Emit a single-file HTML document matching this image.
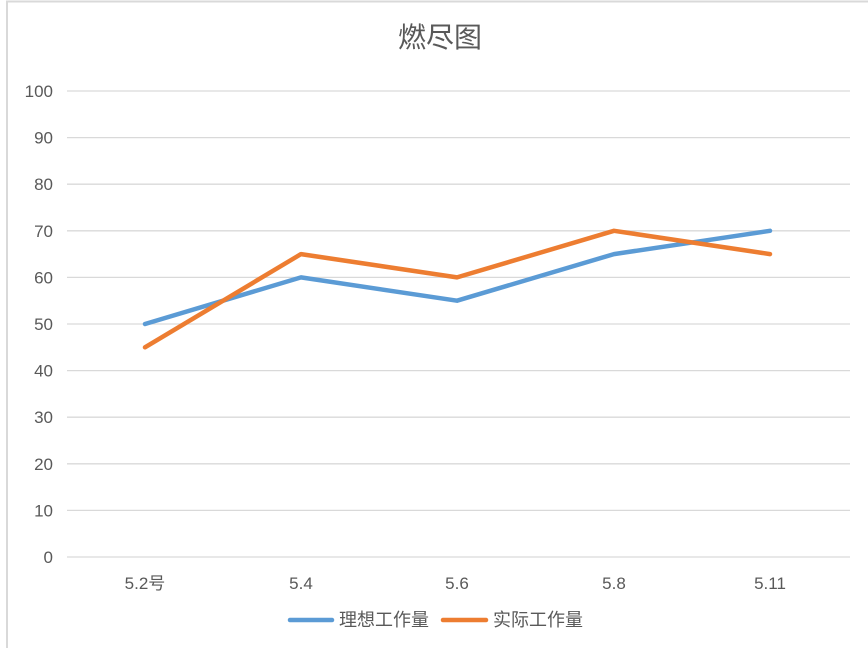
<!DOCTYPE html>
<html><head><meta charset="utf-8"><style>
body{margin:0;width:868px;height:648px;background:#fff;overflow:hidden}
text{font-family:"Liberation Sans","Noto Sans CJK SC",sans-serif;fill:#595959}
</style></head><body>
<svg width="868" height="648" xmlns="http://www.w3.org/2000/svg">
<rect x="7" y="1.5" width="870" height="660" fill="none" stroke="#d9d9d9" stroke-width="2"/>
<text x="440" y="47" font-size="28" text-anchor="middle">燃尽图</text>
<g stroke="#d9d9d9" stroke-width="1.3">
<line x1="67" x2="850" y1="91" y2="91"/><line x1="67" x2="850" y1="137.6" y2="137.6"/>
<line x1="67" x2="850" y1="184.2" y2="184.2"/><line x1="67" x2="850" y1="230.8" y2="230.8"/>
<line x1="67" x2="850" y1="277.4" y2="277.4"/><line x1="67" x2="850" y1="324" y2="324"/>
<line x1="67" x2="850" y1="370.6" y2="370.6"/><line x1="67" x2="850" y1="417.2" y2="417.2"/>
<line x1="67" x2="850" y1="463.8" y2="463.8"/><line x1="67" x2="850" y1="510.4" y2="510.4"/>
<line x1="67" x2="850" y1="557" y2="557"/>
</g>
<g font-size="17" text-anchor="end">
<text x="53" y="97">100</text><text x="53" y="143.6">90</text><text x="53" y="190.2">80</text>
<text x="53" y="236.8">70</text><text x="53" y="283.4">60</text><text x="53" y="330">50</text>
<text x="53" y="376.6">40</text><text x="53" y="423.2">30</text><text x="53" y="469.8">20</text>
<text x="53" y="516.4">10</text><text x="53" y="563">0</text>
</g>
<g font-size="17" text-anchor="middle">
<text x="145" y="589">5.2号</text><text x="301" y="589">5.4</text><text x="457" y="589">5.6</text>
<text x="614" y="589">5.8</text><text x="770" y="589">5.11</text>
</g>
<polyline fill="none" stroke="#5b9bd5" stroke-width="4.5" stroke-linejoin="round" stroke-linecap="round"
 points="145,324 301,277.4 457,300.7 614,254.1 770,230.8"/>
<polyline fill="none" stroke="#ed7d31" stroke-width="4.5" stroke-linejoin="round" stroke-linecap="round"
 points="145,347.3 301,254.1 457,277.4 614,230.8 770,254.1"/>
<line x1="290" x2="332" y1="620" y2="620" stroke="#5b9bd5" stroke-width="4.5" stroke-linecap="round"/>
<text x="339" y="626" font-size="18">理想工作量</text>
<line x1="443" x2="486" y1="620" y2="620" stroke="#ed7d31" stroke-width="4.5" stroke-linecap="round"/>
<text x="493" y="626" font-size="18">实际工作量</text>
</svg>
</body></html>
